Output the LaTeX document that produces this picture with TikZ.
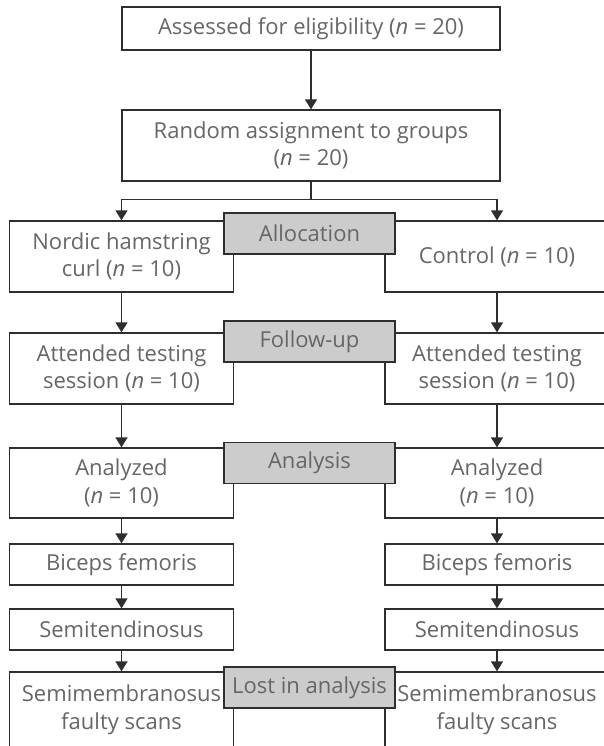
\documentclass[tikz,border=0pt]{standalone}
\usepackage{fontspec}
\setmainfont{Open Sans}
\usepackage{xcolor}
\usepackage{tikz}
\usetikzlibrary{arrows.meta}
\definecolor{linea}{HTML}{2E2E2E}
\definecolor{texto}{HTML}{666666}
\definecolor{gris}{HTML}{CCCCCC}

\begin{document}
\begin{tikzpicture}[x=1pt, y=-1pt]
    % Definición de estilos
    \tikzstyle{caja}=[draw=linea, fill=white, line width=1.3pt, text=texto, align=center, inner sep=0pt, font=\fontsize{22}{27.5}\selectfont]
    \tikzstyle{lado}=[caja, minimum width=224pt]
    \tikzstyle{etapa}=[caja, fill=gris, minimum width=171pt, minimum height=41pt]
    \tikzstyle{flecha}=[line width=1.3pt, draw=linea, -{Triangle[width=12pt, length=10pt]}]
    % Marco de la figura
    \clip (0,0) rectangle (604,746);
    % Cajas superiores
    \node[caja, minimum width=378pt, minimum height=43pt] (assess) at (311,28.5) {Assessed for eligibility (\textit{n} = 20)};
    \node[caja, minimum width=378pt, minimum height=71pt] (random) at (311,145.5) {Random assignment to groups\\(\textit{n} = 20)};
    % Columna izquierda (intervención)
    \node[lado, minimum height=71pt] (nordic) at (121.5,256.5) {Nordic hamstring\\curl (\textit{n} = 10)};
    \node[lado, minimum height=71pt] (attendL) at (121.5,368.5) {Attended testing\\session (\textit{n} = 10)};
    \node[lado, minimum height=70pt] (analyzedL) at (121.5,483) {Analyzed\\(\textit{n} = 10)};
    \node[lado, minimum height=41pt] (bicepsL) at (121.5,564.5) {Biceps femoris};
    \node[lado, minimum height=41pt] (semitL) at (121.5,629.5) {Semitendinosus};
    \node[lado, minimum height=76pt] (semimL) at (121.5,710) {Semimembranosus\\faulty scans};
    % Columna derecha (control)
    \node[lado, minimum height=71pt] (control) at (497,256.5) {Control (\textit{n} = 10)};
    \node[lado, minimum height=71pt] (attendR) at (497,368.5) {Attended testing\\session (\textit{n} = 10)};
    \node[lado, minimum height=70pt] (analyzedR) at (497,483) {Analyzed\\(\textit{n} = 10)};
    \node[lado, minimum height=41pt] (bicepsR) at (497,564.5) {Biceps femoris};
    \node[lado, minimum height=41pt] (semitR) at (497,629.5) {Semitendinosus};
    \node[lado, minimum height=76pt] (semimR) at (497,710) {Semimembranosus\\faulty scans};
    % Flechas principales
    \draw[flecha] (assess.south) -- (random.north);
    \coordinate (rama) at ([yshift=-18pt]random.south);
    \draw[line width=1.3pt, draw=linea] (random.south) -- (rama);
    \draw[flecha] (rama) -| (nordic.north);
    \draw[flecha] (rama) -| (control.north);
    % Flechas de cada columna
    \foreach \a/\b in {nordic/attendL, attendL/analyzedL, analyzedL/bicepsL, bicepsL/semitL, semitL/semimL,
                       control/attendR, attendR/analyzedR, analyzedR/bicepsR, bicepsR/semitR, semitR/semimR}
        \draw[flecha] (\a.south) -- (\b.north);
    % Etiquetas de las etapas
    \node[etapa] (alloc) at (309.5,233.5) {Allocation};
    \node[etapa] (follow) at (309.5,341.5) {Follow-up};
    \node[etapa] (analysis) at (309.5,463) {Analysis};
    \node[etapa] (lost) at (309.5,687.5) {Lost in analysis};
\end{tikzpicture}
\end{document}
